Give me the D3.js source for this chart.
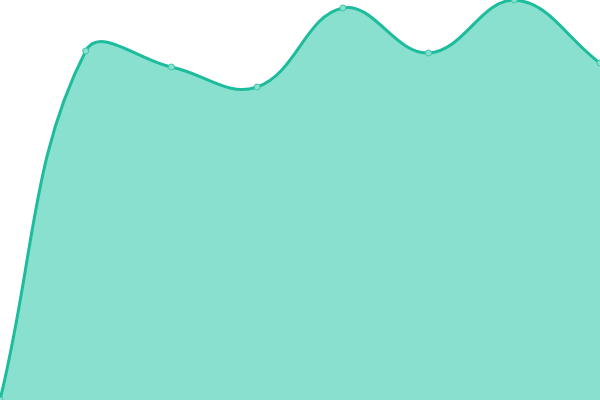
<!DOCTYPE html>
<html>
<head>
<meta charset="utf-8">
<script src="https://cdn.jsdelivr.net/npm/d3@7"></script>
<style>
  body { margin: 0; background: #fff; }
  svg { display: block; }
</style>
</head>
<body>
<div id="chart"></div>
<script>
var svgWidth = 600;
var svgHeight = 400;

// values
var labels = ["1", "2", "3", "4", "5", "6", "7", "8"];
var values = [0, 349, 333, 313, 392, 347, 400, 337];

var svg = d3.select("#chart")
  .append("svg")
  .attr("width", svgWidth)
  .attr("height", svgHeight);

var xScale = d3.scalePoint()
  .domain(labels)
  .range([0, svgWidth]);

var yScale = d3.scaleLinear()
  .domain([0, d3.max(values)])
  .range([svgHeight, 0]);

// spline with distance-weighted control points (tension 0.4),
// control points kept inside the plot
function SplineCurve(context, t) {
  this._context = context;
  this._t = t;
}
SplineCurve.prototype = {
  areaStart: function() { this._line = 0; },
  areaEnd: function() { this._line = NaN; },
  lineStart: function() { this._x = []; this._y = []; },
  lineEnd: function() {
    var x = this._x, y = this._y, n = x.length, c = this._context, t = this._t;
    var clamp = v => Math.max(0, Math.min(svgHeight, v));
    if (n) {
      this._line ? c.lineTo(x[0], y[0]) : c.moveTo(x[0], y[0]);
      var cp = [];
      for (var i = 0; i < n; i++) {
        var p = Math.max(i - 1, 0), q = Math.min(i + 1, n - 1);
        var d01 = Math.hypot(x[i] - x[p], y[i] - y[p]);
        var d12 = Math.hypot(x[q] - x[i], y[q] - y[i]);
        var s01 = d01 / (d01 + d12) || 0;
        var s12 = d12 / (d01 + d12) || 0;
        var fa = t * s01, fb = t * s12;
        cp.push({
          px: x[i] - fa * (x[q] - x[p]),
          py: clamp(y[i] - fa * (y[q] - y[p])),
          nx: x[i] + fb * (x[q] - x[p]),
          ny: clamp(y[i] + fb * (y[q] - y[p]))
        });
      }
      for (i = 1; i < n; i++) {
        c.bezierCurveTo(cp[i - 1].nx, cp[i - 1].ny, cp[i].px, cp[i].py, x[i], y[i]);
      }
    }
    if (this._line || (this._line !== 0 && n === 1)) c.closePath();
    this._line = 1 - this._line;
  },
  point: function(x, y) { this._x.push(+x); this._y.push(+y); }
};
var curve = context => new SplineCurve(context, 0.4);

var area = d3.area()
  .x((d, i) => xScale(labels[i]))
  .y0(svgHeight)
  .y1(d => yScale(d))
  .curve(curve);

var line = d3.line()
  .x((d, i) => xScale(labels[i]))
  .y(d => yScale(d))
  .curve(curve);

svg.append("path")
  .datum(values)
  .attr("d", area)
  .attr("fill", "#89e0cf");

svg.append("path")
  .datum(values)
  .attr("d", line)
  .attr("fill", "none")
  .attr("stroke", "#1dbc9c")
  .attr("stroke-width", 3);

svg.selectAll("circle")
  .data(values)
  .enter()
  .append("circle")
  .attr("cx", (d, i) => xScale(labels[i]))
  .attr("cy", d => yScale(d))
  .attr("r", 3)
  .attr("fill", "#89e0cf")
  .attr("stroke", "#3cc8a8")
  .attr("stroke-width", 1);
</script>
</body>
</html>
